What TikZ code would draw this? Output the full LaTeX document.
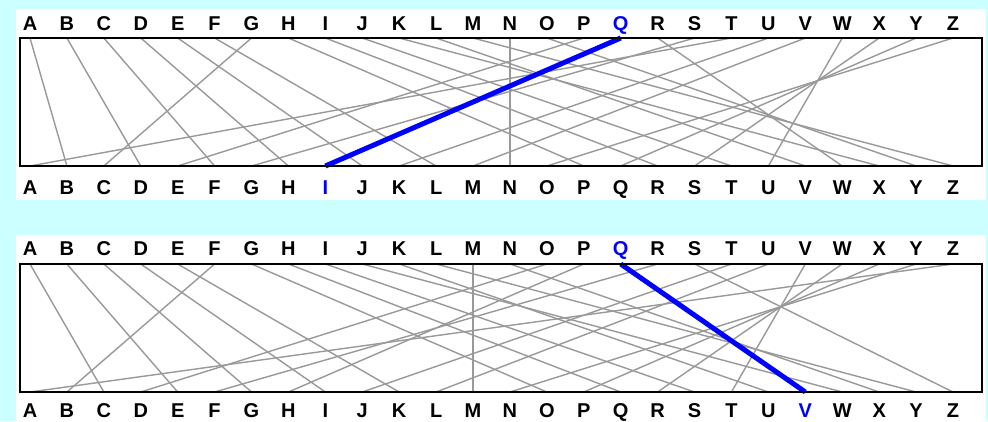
\documentclass[tikz,border=0pt]{standalone}
\usepackage{fontspec}
\setmainfont{Liberation Sans}
\definecolor{skybg}{HTML}{CCFFFF}
\definecolor{wiregray}{HTML}{999999}
\definecolor{hilite}{HTML}{0000FF}

\begin{document}
\begin{tikzpicture}[x=1pt, y=-1pt,
  letter/.style={anchor=base, inner sep=0pt, font=\fontsize{20}{20}\selectfont\bfseries},
  wire/.style={draw=wiregray, line width=1.4pt},
  hotwire/.style={draw=hilite, line width=5pt},
  rotorbox/.style={draw=black, line width=2pt}
]
  \useasboundingbox[fill=skybg] (0,0) rectangle (988,421);
  \fill[white] (16,9) rectangle (986,200);
  \fill[white] (16,235) rectangle (986,421);

  % letters and contact points, both panels
  \foreach \ch [count=\i from 0] in {A,B,C,D,E,F,G,H,I,J,K,L,M,N,O,P,Q,R,S,T,U,V,W,X,Y,Z} {
    \pgfmathsetmacro\xx{30+36.92*\i}
    \ifnum\i=16 \def\topcol{hilite}\else\def\topcol{black}\fi
    \ifnum\i=8 \def\botcolA{hilite}\else\def\botcolA{black}\fi
    \ifnum\i=21 \def\botcolB{hilite}\else\def\botcolB{black}\fi
    \node[letter, text=\topcol] (pAt\ch) at (\xx,30) {\ch};
    \coordinate (pAu\i) at (\xx,38);
    \coordinate (pAd\i) at (\xx,166);
    \node[letter, text=\botcolA] (pAb\ch) at (\xx,194) {\ch};
    \node[letter, text=\topcol] (pBt\ch) at (\xx,255) {\ch};
    \coordinate (pBu\i) at (\xx,264);
    \coordinate (pBd\i) at (\xx,392);
    \node[letter, text=\botcolB] (pBb\ch) at (\xx,417) {\ch};
  }

  % rotor wiring, position A
  \foreach \j [count=\i from 0] in {1,3,5,7,9,11,2,15,17,19,23,21,25,13,24,4,8,22,6,0,10,12,20,18,16,14}
    \draw[wire] (pAu\i) -- (pAd\j);
  \draw[hotwire] (pAu16) -- (pAd8);
  \draw[rotorbox] (20,38) rectangle (982,166);

  % rotor wiring, stepped once
  \foreach \j [count=\i from 0] in {2,4,6,8,10,1,14,16,18,22,20,24,12,23,3,7,21,5,25,9,11,19,17,15,13,0}
    \draw[wire] (pBu\i) -- (pBd\j);
  \draw[hotwire] (pBu16) -- (pBd21);
  \draw[rotorbox] (20,264) rectangle (982,392);
\end{tikzpicture}
\end{document}
